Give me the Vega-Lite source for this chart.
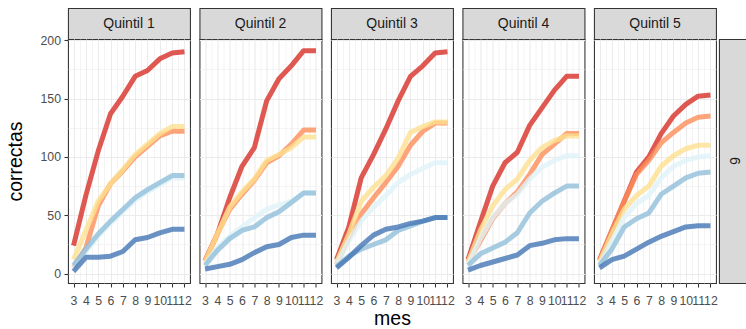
{
 "$schema": "https://vega.github.io/schema/vega-lite/v6.json",
 "padding": {"left": 5, "top": 7, "right": 0, "bottom": 0},
 "background": "white",
 "config": {
  "font": "Liberation Sans",
  "view": {"stroke": "#333333", "strokeWidth": 1.07},
  "axis": {"labelFont": "Liberation Sans", "labelFontSize": 12.3, "labelColor": "#4d4d4d", "tickColor": "#333333", "tickSize": 4, "tickWidth": 1.07, "gridColor": "#ebebeb", "domain": false, "titleFont": "Liberation Sans", "titleFontSize": 19.5, "titleFontWeight": "normal", "titleColor": "#000000", "labelOverlap": false, "labelFlush": false, "labelBound": false}
 },
 "datasets": {
  "strips": [{"quintil": "Quintil 1"}, {"quintil": "Quintil 2"}, {"quintil": "Quintil 3"}, {"quintil": "Quintil 4"}, {"quintil": "Quintil 5"}],
  "fila": [{"fila": "6"}],
  "lines": [
{"quintil":"Quintil 1","grupo":"g1","mes":3,"correctas":24},{"quintil":"Quintil 1","grupo":"g1","mes":4,"correctas":67},{"quintil":"Quintil 1","grupo":"g1","mes":5,"correctas":105},{"quintil":"Quintil 1","grupo":"g1","mes":6,"correctas":137},{"quintil":"Quintil 1","grupo":"g1","mes":7,"correctas":152},{"quintil":"Quintil 1","grupo":"g1","mes":8,"correctas":169},{"quintil":"Quintil 1","grupo":"g1","mes":9,"correctas":174},{"quintil":"Quintil 1","grupo":"g1","mes":10,"correctas":184},{"quintil":"Quintil 1","grupo":"g1","mes":11,"correctas":189},{"quintil":"Quintil 1","grupo":"g1","mes":12,"correctas":190},
{"quintil":"Quintil 1","grupo":"g2","mes":3,"correctas":5},{"quintil":"Quintil 1","grupo":"g2","mes":4,"correctas":22},{"quintil":"Quintil 1","grupo":"g2","mes":5,"correctas":58},{"quintil":"Quintil 1","grupo":"g2","mes":6,"correctas":77},{"quintil":"Quintil 1","grupo":"g2","mes":7,"correctas":88},{"quintil":"Quintil 1","grupo":"g2","mes":8,"correctas":100},{"quintil":"Quintil 1","grupo":"g2","mes":9,"correctas":109},{"quintil":"Quintil 1","grupo":"g2","mes":10,"correctas":118},{"quintil":"Quintil 1","grupo":"g2","mes":11,"correctas":122},{"quintil":"Quintil 1","grupo":"g2","mes":12,"correctas":122},
{"quintil":"Quintil 1","grupo":"g3","mes":3,"correctas":12},{"quintil":"Quintil 1","grupo":"g3","mes":4,"correctas":37},{"quintil":"Quintil 1","grupo":"g3","mes":5,"correctas":62},{"quintil":"Quintil 1","grupo":"g3","mes":6,"correctas":77},{"quintil":"Quintil 1","grupo":"g3","mes":7,"correctas":89},{"quintil":"Quintil 1","grupo":"g3","mes":8,"correctas":102},{"quintil":"Quintil 1","grupo":"g3","mes":9,"correctas":111},{"quintil":"Quintil 1","grupo":"g3","mes":10,"correctas":120},{"quintil":"Quintil 1","grupo":"g3","mes":11,"correctas":126},{"quintil":"Quintil 1","grupo":"g3","mes":12,"correctas":126},
{"quintil":"Quintil 1","grupo":"g4","mes":3,"correctas":5},{"quintil":"Quintil 1","grupo":"g4","mes":4,"correctas":19},{"quintil":"Quintil 1","grupo":"g4","mes":5,"correctas":32},{"quintil":"Quintil 1","grupo":"g4","mes":6,"correctas":43},{"quintil":"Quintil 1","grupo":"g4","mes":7,"correctas":53},{"quintil":"Quintil 1","grupo":"g4","mes":8,"correctas":63},{"quintil":"Quintil 1","grupo":"g4","mes":9,"correctas":70},{"quintil":"Quintil 1","grupo":"g4","mes":10,"correctas":76},{"quintil":"Quintil 1","grupo":"g4","mes":11,"correctas":82},{"quintil":"Quintil 1","grupo":"g4","mes":12,"correctas":82},
{"quintil":"Quintil 1","grupo":"g5","mes":3,"correctas":7},{"quintil":"Quintil 1","grupo":"g5","mes":4,"correctas":21},{"quintil":"Quintil 1","grupo":"g5","mes":5,"correctas":34},{"quintil":"Quintil 1","grupo":"g5","mes":6,"correctas":45},{"quintil":"Quintil 1","grupo":"g5","mes":7,"correctas":55},{"quintil":"Quintil 1","grupo":"g5","mes":8,"correctas":65},{"quintil":"Quintil 1","grupo":"g5","mes":9,"correctas":72},{"quintil":"Quintil 1","grupo":"g5","mes":10,"correctas":78},{"quintil":"Quintil 1","grupo":"g5","mes":11,"correctas":84},{"quintil":"Quintil 1","grupo":"g5","mes":12,"correctas":84},
{"quintil":"Quintil 1","grupo":"g6","mes":3,"correctas":2},{"quintil":"Quintil 1","grupo":"g6","mes":4,"correctas":14},{"quintil":"Quintil 1","grupo":"g6","mes":5,"correctas":14},{"quintil":"Quintil 1","grupo":"g6","mes":6,"correctas":15},{"quintil":"Quintil 1","grupo":"g6","mes":7,"correctas":19},{"quintil":"Quintil 1","grupo":"g6","mes":8,"correctas":29},{"quintil":"Quintil 1","grupo":"g6","mes":9,"correctas":31},{"quintil":"Quintil 1","grupo":"g6","mes":10,"correctas":35},{"quintil":"Quintil 1","grupo":"g6","mes":11,"correctas":38},{"quintil":"Quintil 1","grupo":"g6","mes":12,"correctas":38},
{"quintil":"Quintil 2","grupo":"g1","mes":3,"correctas":11},{"quintil":"Quintil 2","grupo":"g1","mes":4,"correctas":34},{"quintil":"Quintil 2","grupo":"g1","mes":5,"correctas":65},{"quintil":"Quintil 2","grupo":"g1","mes":6,"correctas":92},{"quintil":"Quintil 2","grupo":"g1","mes":7,"correctas":108},{"quintil":"Quintil 2","grupo":"g1","mes":8,"correctas":148},{"quintil":"Quintil 2","grupo":"g1","mes":9,"correctas":167},{"quintil":"Quintil 2","grupo":"g1","mes":10,"correctas":178},{"quintil":"Quintil 2","grupo":"g1","mes":11,"correctas":191},{"quintil":"Quintil 2","grupo":"g1","mes":12,"correctas":191},
{"quintil":"Quintil 2","grupo":"g2","mes":3,"correctas":11},{"quintil":"Quintil 2","grupo":"g2","mes":4,"correctas":34},{"quintil":"Quintil 2","grupo":"g2","mes":5,"correctas":55},{"quintil":"Quintil 2","grupo":"g2","mes":6,"correctas":68},{"quintil":"Quintil 2","grupo":"g2","mes":7,"correctas":80},{"quintil":"Quintil 2","grupo":"g2","mes":8,"correctas":95},{"quintil":"Quintil 2","grupo":"g2","mes":9,"correctas":101},{"quintil":"Quintil 2","grupo":"g2","mes":10,"correctas":111},{"quintil":"Quintil 2","grupo":"g2","mes":11,"correctas":123},{"quintil":"Quintil 2","grupo":"g2","mes":12,"correctas":123},
{"quintil":"Quintil 2","grupo":"g3","mes":3,"correctas":10},{"quintil":"Quintil 2","grupo":"g3","mes":4,"correctas":34},{"quintil":"Quintil 2","grupo":"g3","mes":5,"correctas":57},{"quintil":"Quintil 2","grupo":"g3","mes":6,"correctas":70},{"quintil":"Quintil 2","grupo":"g3","mes":7,"correctas":81},{"quintil":"Quintil 2","grupo":"g3","mes":8,"correctas":97},{"quintil":"Quintil 2","grupo":"g3","mes":9,"correctas":102},{"quintil":"Quintil 2","grupo":"g3","mes":10,"correctas":108},{"quintil":"Quintil 2","grupo":"g3","mes":11,"correctas":117},{"quintil":"Quintil 2","grupo":"g3","mes":12,"correctas":117},
{"quintil":"Quintil 2","grupo":"g4","mes":3,"correctas":8},{"quintil":"Quintil 2","grupo":"g4","mes":4,"correctas":22},{"quintil":"Quintil 2","grupo":"g4","mes":5,"correctas":32},{"quintil":"Quintil 2","grupo":"g4","mes":6,"correctas":40},{"quintil":"Quintil 2","grupo":"g4","mes":7,"correctas":48},{"quintil":"Quintil 2","grupo":"g4","mes":8,"correctas":55},{"quintil":"Quintil 2","grupo":"g4","mes":9,"correctas":59},{"quintil":"Quintil 2","grupo":"g4","mes":10,"correctas":62},{"quintil":"Quintil 2","grupo":"g4","mes":11,"correctas":69},{"quintil":"Quintil 2","grupo":"g4","mes":12,"correctas":69},
{"quintil":"Quintil 2","grupo":"g5","mes":3,"correctas":7},{"quintil":"Quintil 2","grupo":"g5","mes":4,"correctas":20},{"quintil":"Quintil 2","grupo":"g5","mes":5,"correctas":30},{"quintil":"Quintil 2","grupo":"g5","mes":6,"correctas":37},{"quintil":"Quintil 2","grupo":"g5","mes":7,"correctas":40},{"quintil":"Quintil 2","grupo":"g5","mes":8,"correctas":48},{"quintil":"Quintil 2","grupo":"g5","mes":9,"correctas":53},{"quintil":"Quintil 2","grupo":"g5","mes":10,"correctas":61},{"quintil":"Quintil 2","grupo":"g5","mes":11,"correctas":69},{"quintil":"Quintil 2","grupo":"g5","mes":12,"correctas":69},
{"quintil":"Quintil 2","grupo":"g6","mes":3,"correctas":4},{"quintil":"Quintil 2","grupo":"g6","mes":4,"correctas":6},{"quintil":"Quintil 2","grupo":"g6","mes":5,"correctas":8},{"quintil":"Quintil 2","grupo":"g6","mes":6,"correctas":12},{"quintil":"Quintil 2","grupo":"g6","mes":7,"correctas":18},{"quintil":"Quintil 2","grupo":"g6","mes":8,"correctas":23},{"quintil":"Quintil 2","grupo":"g6","mes":9,"correctas":25},{"quintil":"Quintil 2","grupo":"g6","mes":10,"correctas":31},{"quintil":"Quintil 2","grupo":"g6","mes":11,"correctas":33},{"quintil":"Quintil 2","grupo":"g6","mes":12,"correctas":33},
{"quintil":"Quintil 3","grupo":"g1","mes":3,"correctas":12},{"quintil":"Quintil 3","grupo":"g1","mes":4,"correctas":40},{"quintil":"Quintil 3","grupo":"g1","mes":5,"correctas":82},{"quintil":"Quintil 3","grupo":"g1","mes":6,"correctas":102},{"quintil":"Quintil 3","grupo":"g1","mes":7,"correctas":124},{"quintil":"Quintil 3","grupo":"g1","mes":8,"correctas":148},{"quintil":"Quintil 3","grupo":"g1","mes":9,"correctas":169},{"quintil":"Quintil 3","grupo":"g1","mes":10,"correctas":178},{"quintil":"Quintil 3","grupo":"g1","mes":11,"correctas":189},{"quintil":"Quintil 3","grupo":"g1","mes":12,"correctas":190},
{"quintil":"Quintil 3","grupo":"g2","mes":3,"correctas":8},{"quintil":"Quintil 3","grupo":"g2","mes":4,"correctas":31},{"quintil":"Quintil 3","grupo":"g2","mes":5,"correctas":51},{"quintil":"Quintil 3","grupo":"g2","mes":6,"correctas":65},{"quintil":"Quintil 3","grupo":"g2","mes":7,"correctas":78},{"quintil":"Quintil 3","grupo":"g2","mes":8,"correctas":92},{"quintil":"Quintil 3","grupo":"g2","mes":9,"correctas":110},{"quintil":"Quintil 3","grupo":"g2","mes":10,"correctas":122},{"quintil":"Quintil 3","grupo":"g2","mes":11,"correctas":129},{"quintil":"Quintil 3","grupo":"g2","mes":12,"correctas":129},
{"quintil":"Quintil 3","grupo":"g3","mes":3,"correctas":10},{"quintil":"Quintil 3","grupo":"g3","mes":4,"correctas":34},{"quintil":"Quintil 3","grupo":"g3","mes":5,"correctas":62},{"quintil":"Quintil 3","grupo":"g3","mes":6,"correctas":74},{"quintil":"Quintil 3","grupo":"g3","mes":7,"correctas":84},{"quintil":"Quintil 3","grupo":"g3","mes":8,"correctas":99},{"quintil":"Quintil 3","grupo":"g3","mes":9,"correctas":121},{"quintil":"Quintil 3","grupo":"g3","mes":10,"correctas":126},{"quintil":"Quintil 3","grupo":"g3","mes":11,"correctas":130},{"quintil":"Quintil 3","grupo":"g3","mes":12,"correctas":130},
{"quintil":"Quintil 3","grupo":"g4","mes":3,"correctas":8},{"quintil":"Quintil 3","grupo":"g4","mes":4,"correctas":28},{"quintil":"Quintil 3","grupo":"g4","mes":5,"correctas":45},{"quintil":"Quintil 3","grupo":"g4","mes":6,"correctas":57},{"quintil":"Quintil 3","grupo":"g4","mes":7,"correctas":67},{"quintil":"Quintil 3","grupo":"g4","mes":8,"correctas":78},{"quintil":"Quintil 3","grupo":"g4","mes":9,"correctas":85},{"quintil":"Quintil 3","grupo":"g4","mes":10,"correctas":90},{"quintil":"Quintil 3","grupo":"g4","mes":11,"correctas":95},{"quintil":"Quintil 3","grupo":"g4","mes":12,"correctas":95},
{"quintil":"Quintil 3","grupo":"g5","mes":3,"correctas":6},{"quintil":"Quintil 3","grupo":"g5","mes":4,"correctas":15},{"quintil":"Quintil 3","grupo":"g5","mes":5,"correctas":21},{"quintil":"Quintil 3","grupo":"g5","mes":6,"correctas":25},{"quintil":"Quintil 3","grupo":"g5","mes":7,"correctas":29},{"quintil":"Quintil 3","grupo":"g5","mes":8,"correctas":37},{"quintil":"Quintil 3","grupo":"g5","mes":9,"correctas":41},{"quintil":"Quintil 3","grupo":"g5","mes":10,"correctas":45},{"quintil":"Quintil 3","grupo":"g5","mes":11,"correctas":48},{"quintil":"Quintil 3","grupo":"g5","mes":12,"correctas":48},
{"quintil":"Quintil 3","grupo":"g6","mes":3,"correctas":5},{"quintil":"Quintil 3","grupo":"g6","mes":4,"correctas":14},{"quintil":"Quintil 3","grupo":"g6","mes":5,"correctas":24},{"quintil":"Quintil 3","grupo":"g6","mes":6,"correctas":33},{"quintil":"Quintil 3","grupo":"g6","mes":7,"correctas":38},{"quintil":"Quintil 3","grupo":"g6","mes":8,"correctas":40},{"quintil":"Quintil 3","grupo":"g6","mes":9,"correctas":43},{"quintil":"Quintil 3","grupo":"g6","mes":10,"correctas":45},{"quintil":"Quintil 3","grupo":"g6","mes":11,"correctas":48},{"quintil":"Quintil 3","grupo":"g6","mes":12,"correctas":48},
{"quintil":"Quintil 4","grupo":"g1","mes":3,"correctas":12},{"quintil":"Quintil 4","grupo":"g1","mes":4,"correctas":44},{"quintil":"Quintil 4","grupo":"g1","mes":5,"correctas":75},{"quintil":"Quintil 4","grupo":"g1","mes":6,"correctas":95},{"quintil":"Quintil 4","grupo":"g1","mes":7,"correctas":104},{"quintil":"Quintil 4","grupo":"g1","mes":8,"correctas":127},{"quintil":"Quintil 4","grupo":"g1","mes":9,"correctas":142},{"quintil":"Quintil 4","grupo":"g1","mes":10,"correctas":157},{"quintil":"Quintil 4","grupo":"g1","mes":11,"correctas":169},{"quintil":"Quintil 4","grupo":"g1","mes":12,"correctas":169},
{"quintil":"Quintil 4","grupo":"g2","mes":3,"correctas":10},{"quintil":"Quintil 4","grupo":"g2","mes":4,"correctas":28},{"quintil":"Quintil 4","grupo":"g2","mes":5,"correctas":47},{"quintil":"Quintil 4","grupo":"g2","mes":6,"correctas":60},{"quintil":"Quintil 4","grupo":"g2","mes":7,"correctas":70},{"quintil":"Quintil 4","grupo":"g2","mes":8,"correctas":85},{"quintil":"Quintil 4","grupo":"g2","mes":9,"correctas":102},{"quintil":"Quintil 4","grupo":"g2","mes":10,"correctas":111},{"quintil":"Quintil 4","grupo":"g2","mes":11,"correctas":120},{"quintil":"Quintil 4","grupo":"g2","mes":12,"correctas":120},
{"quintil":"Quintil 4","grupo":"g3","mes":3,"correctas":10},{"quintil":"Quintil 4","grupo":"g3","mes":4,"correctas":37},{"quintil":"Quintil 4","grupo":"g3","mes":5,"correctas":58},{"quintil":"Quintil 4","grupo":"g3","mes":6,"correctas":72},{"quintil":"Quintil 4","grupo":"g3","mes":7,"correctas":81},{"quintil":"Quintil 4","grupo":"g3","mes":8,"correctas":97},{"quintil":"Quintil 4","grupo":"g3","mes":9,"correctas":108},{"quintil":"Quintil 4","grupo":"g3","mes":10,"correctas":114},{"quintil":"Quintil 4","grupo":"g3","mes":11,"correctas":118},{"quintil":"Quintil 4","grupo":"g3","mes":12,"correctas":118},
{"quintil":"Quintil 4","grupo":"g4","mes":3,"correctas":8},{"quintil":"Quintil 4","grupo":"g4","mes":4,"correctas":30},{"quintil":"Quintil 4","grupo":"g4","mes":5,"correctas":48},{"quintil":"Quintil 4","grupo":"g4","mes":6,"correctas":60},{"quintil":"Quintil 4","grupo":"g4","mes":7,"correctas":68},{"quintil":"Quintil 4","grupo":"g4","mes":8,"correctas":81},{"quintil":"Quintil 4","grupo":"g4","mes":9,"correctas":91},{"quintil":"Quintil 4","grupo":"g4","mes":10,"correctas":97},{"quintil":"Quintil 4","grupo":"g4","mes":11,"correctas":101},{"quintil":"Quintil 4","grupo":"g4","mes":12,"correctas":101},
{"quintil":"Quintil 4","grupo":"g5","mes":3,"correctas":7},{"quintil":"Quintil 4","grupo":"g5","mes":4,"correctas":17},{"quintil":"Quintil 4","grupo":"g5","mes":5,"correctas":22},{"quintil":"Quintil 4","grupo":"g5","mes":6,"correctas":27},{"quintil":"Quintil 4","grupo":"g5","mes":7,"correctas":35},{"quintil":"Quintil 4","grupo":"g5","mes":8,"correctas":52},{"quintil":"Quintil 4","grupo":"g5","mes":9,"correctas":62},{"quintil":"Quintil 4","grupo":"g5","mes":10,"correctas":69},{"quintil":"Quintil 4","grupo":"g5","mes":11,"correctas":75},{"quintil":"Quintil 4","grupo":"g5","mes":12,"correctas":75},
{"quintil":"Quintil 4","grupo":"g6","mes":3,"correctas":3},{"quintil":"Quintil 4","grupo":"g6","mes":4,"correctas":7},{"quintil":"Quintil 4","grupo":"g6","mes":5,"correctas":10},{"quintil":"Quintil 4","grupo":"g6","mes":6,"correctas":13},{"quintil":"Quintil 4","grupo":"g6","mes":7,"correctas":16},{"quintil":"Quintil 4","grupo":"g6","mes":8,"correctas":24},{"quintil":"Quintil 4","grupo":"g6","mes":9,"correctas":26},{"quintil":"Quintil 4","grupo":"g6","mes":10,"correctas":29},{"quintil":"Quintil 4","grupo":"g6","mes":11,"correctas":30},{"quintil":"Quintil 4","grupo":"g6","mes":12,"correctas":30},
{"quintil":"Quintil 5","grupo":"g1","mes":3,"correctas":12},{"quintil":"Quintil 5","grupo":"g1","mes":4,"correctas":37},{"quintil":"Quintil 5","grupo":"g1","mes":5,"correctas":62},{"quintil":"Quintil 5","grupo":"g1","mes":6,"correctas":87},{"quintil":"Quintil 5","grupo":"g1","mes":7,"correctas":100},{"quintil":"Quintil 5","grupo":"g1","mes":8,"correctas":120},{"quintil":"Quintil 5","grupo":"g1","mes":9,"correctas":135},{"quintil":"Quintil 5","grupo":"g1","mes":10,"correctas":145},{"quintil":"Quintil 5","grupo":"g1","mes":11,"correctas":152},{"quintil":"Quintil 5","grupo":"g1","mes":12,"correctas":153},
{"quintil":"Quintil 5","grupo":"g2","mes":3,"correctas":11},{"quintil":"Quintil 5","grupo":"g2","mes":4,"correctas":37},{"quintil":"Quintil 5","grupo":"g2","mes":5,"correctas":62},{"quintil":"Quintil 5","grupo":"g2","mes":6,"correctas":85},{"quintil":"Quintil 5","grupo":"g2","mes":7,"correctas":97},{"quintil":"Quintil 5","grupo":"g2","mes":8,"correctas":112},{"quintil":"Quintil 5","grupo":"g2","mes":9,"correctas":121},{"quintil":"Quintil 5","grupo":"g2","mes":10,"correctas":129},{"quintil":"Quintil 5","grupo":"g2","mes":11,"correctas":134},{"quintil":"Quintil 5","grupo":"g2","mes":12,"correctas":135},
{"quintil":"Quintil 5","grupo":"g3","mes":3,"correctas":10},{"quintil":"Quintil 5","grupo":"g3","mes":4,"correctas":34},{"quintil":"Quintil 5","grupo":"g3","mes":5,"correctas":55},{"quintil":"Quintil 5","grupo":"g3","mes":6,"correctas":67},{"quintil":"Quintil 5","grupo":"g3","mes":7,"correctas":75},{"quintil":"Quintil 5","grupo":"g3","mes":8,"correctas":92},{"quintil":"Quintil 5","grupo":"g3","mes":9,"correctas":101},{"quintil":"Quintil 5","grupo":"g3","mes":10,"correctas":107},{"quintil":"Quintil 5","grupo":"g3","mes":11,"correctas":110},{"quintil":"Quintil 5","grupo":"g3","mes":12,"correctas":110},
{"quintil":"Quintil 5","grupo":"g4","mes":3,"correctas":8},{"quintil":"Quintil 5","grupo":"g4","mes":4,"correctas":28},{"quintil":"Quintil 5","grupo":"g4","mes":5,"correctas":48},{"quintil":"Quintil 5","grupo":"g4","mes":6,"correctas":60},{"quintil":"Quintil 5","grupo":"g4","mes":7,"correctas":67},{"quintil":"Quintil 5","grupo":"g4","mes":8,"correctas":82},{"quintil":"Quintil 5","grupo":"g4","mes":9,"correctas":92},{"quintil":"Quintil 5","grupo":"g4","mes":10,"correctas":97},{"quintil":"Quintil 5","grupo":"g4","mes":11,"correctas":100},{"quintil":"Quintil 5","grupo":"g4","mes":12,"correctas":101},
{"quintil":"Quintil 5","grupo":"g5","mes":3,"correctas":7},{"quintil":"Quintil 5","grupo":"g5","mes":4,"correctas":21},{"quintil":"Quintil 5","grupo":"g5","mes":5,"correctas":40},{"quintil":"Quintil 5","grupo":"g5","mes":6,"correctas":47},{"quintil":"Quintil 5","grupo":"g5","mes":7,"correctas":52},{"quintil":"Quintil 5","grupo":"g5","mes":8,"correctas":68},{"quintil":"Quintil 5","grupo":"g5","mes":9,"correctas":75},{"quintil":"Quintil 5","grupo":"g5","mes":10,"correctas":82},{"quintil":"Quintil 5","grupo":"g5","mes":11,"correctas":86},{"quintil":"Quintil 5","grupo":"g5","mes":12,"correctas":87},
{"quintil":"Quintil 5","grupo":"g6","mes":3,"correctas":5},{"quintil":"Quintil 5","grupo":"g6","mes":4,"correctas":12},{"quintil":"Quintil 5","grupo":"g6","mes":5,"correctas":15},{"quintil":"Quintil 5","grupo":"g6","mes":6,"correctas":21},{"quintil":"Quintil 5","grupo":"g6","mes":7,"correctas":27},{"quintil":"Quintil 5","grupo":"g6","mes":8,"correctas":32},{"quintil":"Quintil 5","grupo":"g6","mes":9,"correctas":36},{"quintil":"Quintil 5","grupo":"g6","mes":10,"correctas":40},{"quintil":"Quintil 5","grupo":"g6","mes":11,"correctas":41},{"quintil":"Quintil 5","grupo":"g6","mes":12,"correctas":41}
  ]
 },
 "spacing": 0,
 "hconcat": [
  {
   "spacing": 6.5,
   "hconcat": [
    {"spacing": 0, "bounds": "flush", "vconcat": [
     {"width": 122, "height": 31, "data": {"name": "strips"}, "transform": [{"filter": "datum.quintil === 'Quintil 1'"}], "view": {"fill": "#d9d9d9", "stroke": "#333333", "strokeWidth": 1.07}, "mark": {"type": "text", "font": "Liberation Sans", "fontSize": 14, "color": "#1a1a1a"}, "encoding": {"text": {"field": "quintil"}}},
     {"width": 122, "height": 244, "data": {"name": "lines"}, "transform": [{"filter": "datum.quintil === 'Quintil 1'"}], "view": {"fill": "white", "stroke": "#333333", "strokeWidth": 1.07},
      "mark": {"type": "line", "strokeWidth": 5, "opacity": 0.8, "strokeCap": "butt", "strokeJoin": "round"},
      "encoding": {
       "x": {"field": "mes", "type": "quantitative", "scale": {"domain": [2.55, 12.45], "nice": false, "zero": false}, "axis": {"title": null, "values": [3,3.5,4,4.5,5,5.5,6,6.5,7,7.5,8,8.5,9,9.5,10,10.5,11,11.5,12], "labelExpr": "datum.value % 1 === 0 ? format(datum.value, 'd') : ''", "tickOpacity": {"condition": {"test": "datum.value % 1 !== 0", "value": 0}, "value": 1}, "gridWidth": {"condition": {"test": "datum.value % 1 !== 0", "value": 0.55}, "value": 1.07}, "labelPadding": 7}},
       "y": {"field": "correctas", "type": "quantitative", "scale": {"domain": [-8, 201], "nice": false, "zero": false}, "axis": {"title": "correctas", "titlePadding": 14, "values": [0,25,50,75,100,125,150,175,200], "labelExpr": "datum.value % 50 === 0 ? format(datum.value, 'd') : ''", "tickOpacity": {"condition": {"test": "datum.value % 50 !== 0", "value": 0}, "value": 1}, "gridWidth": {"condition": {"test": "datum.value % 50 !== 0", "value": 0.55}, "value": 1.07}, "labelPadding": 3.5}},
       "color": {"field": "grupo", "type": "nominal", "scale": {"domain": ["g1","g2","g3","g4","g5","g6"], "range": ["#d73027","#fc8d59","#fee090","#e0f3f8","#91bfdb","#4575b4"]}, "legend": null}
      }}
    ]},
    {"spacing": 0, "bounds": "flush", "vconcat": [
     {"width": 122, "height": 31, "data": {"name": "strips"}, "transform": [{"filter": "datum.quintil === 'Quintil 2'"}], "view": {"fill": "#d9d9d9", "stroke": "#333333", "strokeWidth": 1.07}, "mark": {"type": "text", "font": "Liberation Sans", "fontSize": 14, "color": "#1a1a1a"}, "encoding": {"text": {"field": "quintil"}}},
     {"width": 122, "height": 244, "data": {"name": "lines"}, "transform": [{"filter": "datum.quintil === 'Quintil 2'"}], "view": {"fill": "white", "stroke": "#333333", "strokeWidth": 1.07},
      "mark": {"type": "line", "strokeWidth": 5, "opacity": 0.8, "strokeCap": "butt", "strokeJoin": "round"},
      "encoding": {
       "x": {"field": "mes", "type": "quantitative", "scale": {"domain": [2.55, 12.45], "nice": false, "zero": false}, "axis": {"title": null, "values": [3,3.5,4,4.5,5,5.5,6,6.5,7,7.5,8,8.5,9,9.5,10,10.5,11,11.5,12], "labelExpr": "datum.value % 1 === 0 ? format(datum.value, 'd') : ''", "tickOpacity": {"condition": {"test": "datum.value % 1 !== 0", "value": 0}, "value": 1}, "gridWidth": {"condition": {"test": "datum.value % 1 !== 0", "value": 0.55}, "value": 1.07}, "labelPadding": 7}},
       "y": {"field": "correctas", "type": "quantitative", "scale": {"domain": [-8, 201], "nice": false, "zero": false}, "axis": {"title": null, "labels": false, "ticks": false, "values": [0,25,50,75,100,125,150,175,200], "gridWidth": {"condition": {"test": "datum.value % 50 !== 0", "value": 0.55}, "value": 1.07}}},
       "color": {"field": "grupo", "type": "nominal", "scale": {"domain": ["g1","g2","g3","g4","g5","g6"], "range": ["#d73027","#fc8d59","#fee090","#e0f3f8","#91bfdb","#4575b4"]}, "legend": null}
      }}
    ]},
    {"spacing": 0, "bounds": "flush", "vconcat": [
     {"width": 122, "height": 31, "data": {"name": "strips"}, "transform": [{"filter": "datum.quintil === 'Quintil 3'"}], "view": {"fill": "#d9d9d9", "stroke": "#333333", "strokeWidth": 1.07}, "mark": {"type": "text", "font": "Liberation Sans", "fontSize": 14, "color": "#1a1a1a"}, "encoding": {"text": {"field": "quintil"}}},
     {"width": 122, "height": 244, "data": {"name": "lines"}, "transform": [{"filter": "datum.quintil === 'Quintil 3'"}], "view": {"fill": "white", "stroke": "#333333", "strokeWidth": 1.07},
      "mark": {"type": "line", "strokeWidth": 5, "opacity": 0.8, "strokeCap": "butt", "strokeJoin": "round"},
      "encoding": {
       "x": {"field": "mes", "type": "quantitative", "scale": {"domain": [2.55, 12.45], "nice": false, "zero": false}, "axis": {"title": "mes", "titlePadding": 3, "values": [3,3.5,4,4.5,5,5.5,6,6.5,7,7.5,8,8.5,9,9.5,10,10.5,11,11.5,12], "labelExpr": "datum.value % 1 === 0 ? format(datum.value, 'd') : ''", "tickOpacity": {"condition": {"test": "datum.value % 1 !== 0", "value": 0}, "value": 1}, "gridWidth": {"condition": {"test": "datum.value % 1 !== 0", "value": 0.55}, "value": 1.07}, "labelPadding": 7}},
       "y": {"field": "correctas", "type": "quantitative", "scale": {"domain": [-8, 201], "nice": false, "zero": false}, "axis": {"title": null, "labels": false, "ticks": false, "values": [0,25,50,75,100,125,150,175,200], "gridWidth": {"condition": {"test": "datum.value % 50 !== 0", "value": 0.55}, "value": 1.07}}},
       "color": {"field": "grupo", "type": "nominal", "scale": {"domain": ["g1","g2","g3","g4","g5","g6"], "range": ["#d73027","#fc8d59","#fee090","#e0f3f8","#91bfdb","#4575b4"]}, "legend": null}
      }}
    ]},
    {"spacing": 0, "bounds": "flush", "vconcat": [
     {"width": 122, "height": 31, "data": {"name": "strips"}, "transform": [{"filter": "datum.quintil === 'Quintil 4'"}], "view": {"fill": "#d9d9d9", "stroke": "#333333", "strokeWidth": 1.07}, "mark": {"type": "text", "font": "Liberation Sans", "fontSize": 14, "color": "#1a1a1a"}, "encoding": {"text": {"field": "quintil"}}},
     {"width": 122, "height": 244, "data": {"name": "lines"}, "transform": [{"filter": "datum.quintil === 'Quintil 4'"}], "view": {"fill": "white", "stroke": "#333333", "strokeWidth": 1.07},
      "mark": {"type": "line", "strokeWidth": 5, "opacity": 0.8, "strokeCap": "butt", "strokeJoin": "round"},
      "encoding": {
       "x": {"field": "mes", "type": "quantitative", "scale": {"domain": [2.55, 12.45], "nice": false, "zero": false}, "axis": {"title": null, "values": [3,3.5,4,4.5,5,5.5,6,6.5,7,7.5,8,8.5,9,9.5,10,10.5,11,11.5,12], "labelExpr": "datum.value % 1 === 0 ? format(datum.value, 'd') : ''", "tickOpacity": {"condition": {"test": "datum.value % 1 !== 0", "value": 0}, "value": 1}, "gridWidth": {"condition": {"test": "datum.value % 1 !== 0", "value": 0.55}, "value": 1.07}, "labelPadding": 7}},
       "y": {"field": "correctas", "type": "quantitative", "scale": {"domain": [-8, 201], "nice": false, "zero": false}, "axis": {"title": null, "labels": false, "ticks": false, "values": [0,25,50,75,100,125,150,175,200], "gridWidth": {"condition": {"test": "datum.value % 50 !== 0", "value": 0.55}, "value": 1.07}}},
       "color": {"field": "grupo", "type": "nominal", "scale": {"domain": ["g1","g2","g3","g4","g5","g6"], "range": ["#d73027","#fc8d59","#fee090","#e0f3f8","#91bfdb","#4575b4"]}, "legend": null}
      }}
    ]},
    {"spacing": 0, "bounds": "flush", "vconcat": [
     {"width": 122, "height": 31, "data": {"name": "strips"}, "transform": [{"filter": "datum.quintil === 'Quintil 5'"}], "view": {"fill": "#d9d9d9", "stroke": "#333333", "strokeWidth": 1.07}, "mark": {"type": "text", "font": "Liberation Sans", "fontSize": 14, "color": "#1a1a1a"}, "encoding": {"text": {"field": "quintil"}}},
     {"width": 122, "height": 244, "data": {"name": "lines"}, "transform": [{"filter": "datum.quintil === 'Quintil 5'"}], "view": {"fill": "white", "stroke": "#333333", "strokeWidth": 1.07},
      "mark": {"type": "line", "strokeWidth": 5, "opacity": 0.8, "strokeCap": "butt", "strokeJoin": "round"},
      "encoding": {
       "x": {"field": "mes", "type": "quantitative", "scale": {"domain": [2.55, 12.45], "nice": false, "zero": false}, "axis": {"title": null, "values": [3,3.5,4,4.5,5,5.5,6,6.5,7,7.5,8,8.5,9,9.5,10,10.5,11,11.5,12], "labelExpr": "datum.value % 1 === 0 ? format(datum.value, 'd') : ''", "tickOpacity": {"condition": {"test": "datum.value % 1 !== 0", "value": 0}, "value": 1}, "gridWidth": {"condition": {"test": "datum.value % 1 !== 0", "value": 0.55}, "value": 1.07}, "labelPadding": 7}},
       "y": {"field": "correctas", "type": "quantitative", "scale": {"domain": [-8, 201], "nice": false, "zero": false}, "axis": {"title": null, "labels": false, "ticks": false, "values": [0,25,50,75,100,125,150,175,200], "gridWidth": {"condition": {"test": "datum.value % 50 !== 0", "value": 0.55}, "value": 1.07}}},
       "color": {"field": "grupo", "type": "nominal", "scale": {"domain": ["g1","g2","g3","g4","g5","g6"], "range": ["#d73027","#fc8d59","#fee090","#e0f3f8","#91bfdb","#4575b4"]}, "legend": null}
      }}
    ]}
   ]
  },
  {"spacing": 0, "bounds": "flush", "vconcat": [
   {"width": 29, "height": 31, "data": {"name": "fila"}, "view": {"fill": null, "stroke": null}, "mark": {"type": "text", "text": ""}, "encoding": {}},
   {"width": 29, "height": 244, "data": {"name": "fila"}, "view": {"fill": "#d9d9d9", "stroke": "#333333", "strokeWidth": 1.07}, "mark": {"type": "text", "font": "Liberation Sans", "fontSize": 14, "color": "#1a1a1a", "angle": 90}, "encoding": {"text": {"field": "fila"}}}
  ]}
 ]
}
